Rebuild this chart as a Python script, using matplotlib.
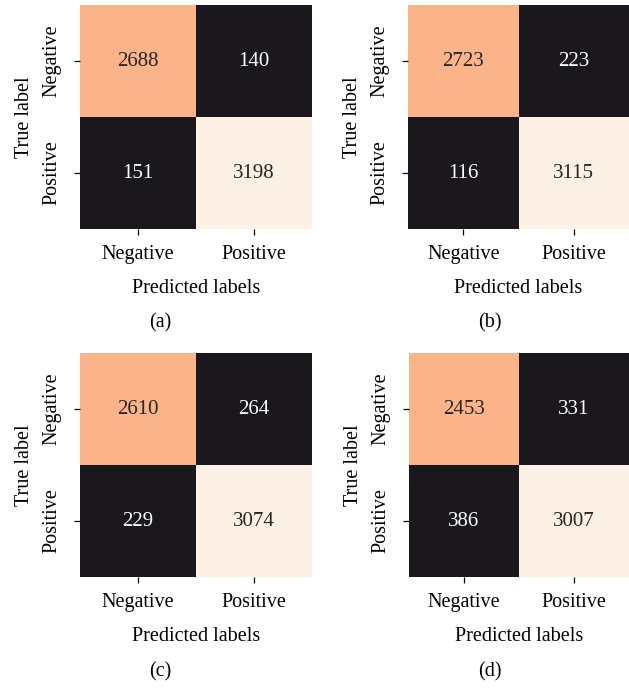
import numpy as np
import matplotlib
matplotlib.use('Agg')
import matplotlib.pyplot as plt
from matplotlib.colors import LinearSegmentedColormap
import seaborn as sns

plt.rcParams['font.family'] = ['Liberation Serif', 'DejaVu Serif']

# matrices de confusion
cm_a = np.array([[2688, 140], [151, 3198]])
cm_b = np.array([[2723, 223], [116, 3115]])
cm_c = np.array([[2610, 264], [229, 3074]])
cm_d = np.array([[2453, 331], [386, 3007]])

class_names = ['Negative', 'Positive']
captions = ['(a)', '(b)', '(c)', '(d)']

# paleta tipo rocket como se ve en la figura
cmap = LinearSegmentedColormap.from_list(
    'cm', [(0.0, '#1b181d'), (0.12, '#1b181d'), (0.45, '#8a3a4a'),
           (0.72, '#fbb48a'), (0.88, '#fbb48a'), (1.0, '#fdf0e4')])

W, H = 629, 688
fig = plt.figure(figsize=(W/100, H/100), dpi=100)

# (left, top, width, height) en pixeles
boxes = [(80, 5, 232, 224), (408, 5, 221, 224),
         (80, 353, 232, 224), (409, 353, 220, 224)]
cap_pos = [(160, 323), (490, 323), (160, 672), (490, 672)]

for cm, box, cap, cp in zip([cm_a, cm_b, cm_c, cm_d], boxes, captions, cap_pos):
    l, t, w, h = box
    ax = fig.add_axes([l/W, 1 - (t+h)/H, w/W, h/H])
    sns.heatmap(cm, annot=True, fmt='d', cmap=cmap, cbar=False, ax=ax,
                annot_kws={'fontsize': 15},
                xticklabels=class_names, yticklabels=class_names)
    ax.set_xlabel('Predicted labels', fontsize=14.5, labelpad=11)
    ax.set_ylabel('True label', fontsize=14.5, labelpad=6)
    ax.tick_params(axis='both', labelsize=14.5, length=4.5, width=0.9)
    ax.tick_params(axis='x', pad=7)
    ax.tick_params(axis='y', pad=9)
    ax.set_yticklabels(class_names, rotation=90, va='center')
    fig.text(cp[0]/W, 1 - cp[1]/H, cap, ha='center', va='center', fontsize=14.5)

fig.savefig('out.png', dpi=100)
